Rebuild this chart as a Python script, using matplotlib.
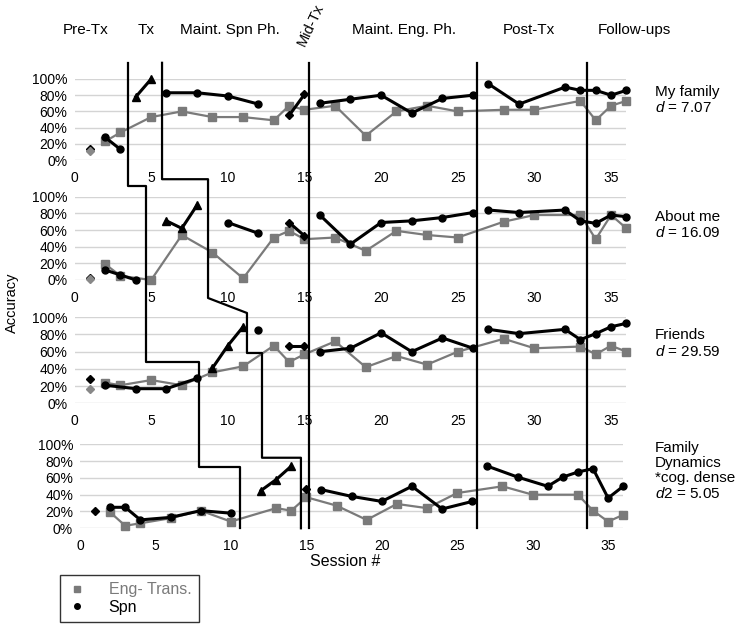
import numpy as np
import matplotlib
matplotlib.use('Agg')
import matplotlib.pyplot as plt
from matplotlib.lines import Line2D
from matplotlib.transforms import blended_transform_factory

plt.rcParams['font.family'] = ['Liberation Sans', 'DejaVu Sans']
plt.rcParams['mathtext.fontset'] = 'custom'
plt.rcParams['mathtext.it'] = 'Liberation Sans:italic'
plt.rcParams['mathtext.rm'] = 'Liberation Sans'

W, H = 738, 625

# ---- data (sessions / accuracy in %) ----
panel_labels = ['My family\n$d$ = 7.07',
                'About me\n$d$ = 16.09',
                'Friends\n$d$ = 29.59',
                'Family\nDynamics\n*cog. dense\n$d2$ = 5.05']

eng_sessions = [
    [2, 3, 5, 7, 9, 11, 13, 14, 15, 17, 19, 21, 23, 25, 28, 30, 33, 34, 35, 36],
    [2, 3, 5, 7, 9, 11, 13, 14, 15, 17, 19, 21, 23, 25, 28, 30, 33, 34, 35, 36],
    [2, 3, 5, 7, 9, 11, 13, 14, 15, 17, 19, 21, 23, 25, 28, 30, 33, 34, 35, 36],
    [2, 3, 4, 6, 8, 10, 13, 14, 15, 17, 19, 21, 23, 25, 28, 30, 33, 34, 35, 36],
]
eng_values = [
    [23, 34, 53, 60, 53, 53, 49, 67, 62, 67, 30, 60, 67, 60, 62, 62, 73, 49, 67, 73],
    [19, 5, 0, 54, 33, 2, 51, 59, 49, 51, 35, 59, 54, 51, 70, 78, 78, 49, 78, 62],
    [24, 21, 27, 21, 36, 43, 67, 48, 57, 72, 42, 55, 45, 60, 75, 64, 66, 57, 67, 60],
    [19, 3, 6, 12, 21, 8, 24, 21, 37, 27, 10, 29, 24, 42, 50, 40, 40, 21, 8, 16],
]

# probe at session 1 (Spn, Eng)
probe_spn = [14, 3, 28, 21]
probe_eng = [11, 1, 17, None]

# Spn series per phase: (sessions, values)
spn_base = [([2, 3], [28, 13]),
            ([2, 3, 4], [12, 6, 0]),
            ([2, 4, 6, 8], [21, 17, 17, 29]),
            ([2, 3, 4, 6, 8, 10], [25, 25, 10, 13, 21, 18])]
spn_tx = [([4, 5], [78, 100]),
          ([6, 7, 8], [71, 62, 90]),
          ([9, 10, 11], [41, 67, 89]),
          ([12, 13, 14], [45, 58, 74])]
spn_maint_spn = [([6, 8, 10, 12], [83, 83, 79, 69]),
                 ([10, 12], [69, 56]),
                 ([12], [85]),
                 ([], [])]
spn_mid = [([14, 15], [55, 81]),
           ([14, 15], [69, 53]),
           ([14, 15], [67, 67]),
           ([15], [47])]
spn_maint_eng = [([16, 18, 20, 22, 24, 26], [70, 75, 80, 58, 76, 80]),
                 ([16, 18, 20, 22, 24, 26], [78, 43, 69, 71, 75, 81]),
                 ([16, 18, 20, 22, 24, 26], [60, 64, 82, 60, 76, 64]),
                 ([16, 18, 20, 22, 24, 26], [46, 38, 32, 50, 23, 32])]
spn_post = [([27, 29, 32, 33, 34, 35, 36], [94, 69, 90, 86, 86, 80, 86]),
            ([27, 29, 32, 33, 34, 35, 36], [84, 81, 84, 71, 68, 78, 76]),
            ([27, 29, 32, 33, 34, 35, 36], [86, 81, 86, 74, 81, 89, 93]),
            ([27, 29, 31, 32, 33, 34, 35, 36], [74, 61, 50, 61, 67, 71, 36, 50])]

phase_names = ['Pre-Tx', 'Tx', 'Maint. Spn Ph.', 'Mid-Tx', 'Maint. Eng. Ph.', 'Post-Tx', 'Follow-ups']
phase_name_x = [0.75, 4.66, 10.14, 15.4, 21.5, 29.65, 36.5]

# phase change lines: (session, panel, level %)
phase_paths = [
    [(3.49, 0, 120), (3.49, 1, 113), (4.66, 1, 113), (4.66, 2, 48), (8.1, 2, 48), (8.1, 3, 73),
     (10.8, 3, 73), (10.8, 3, 0)],
    [(5.71, 0, 120), (5.71, 1, 121), (8.71, 1, 121), (8.71, 1, -21.6), (11.25, 2, 105), (11.25, 2, 58.5),
     (12.23, 2, 58.5), (12.23, 3, 84), (14.77, 3, 84), (14.77, 3, 0)],
    [(15.31, 0, 120), (15.31, 3, 0)],
    [(26.24, 0, 120), (26.24, 3, 0)],
    [(33.41, 0, 120), (33.41, 3, 0)],
]

# ---- layout (pixels) ----
panel_boxes = [(74.5, 626.4, 79, 160), (74.5, 626.4, 196.7, 280),
               (74.5, 626.4, 317.3, 403.3), (80, 623.2, 444.3, 528.3)]
label_y = [100, 225, 343.5, 471]

fig = plt.figure(figsize=(W / 100, H / 100), dpi=100)

gray = '#7a7a7a'
axes = []
for i, (l, r, t, b) in enumerate(panel_boxes):
    ax = fig.add_axes([l / W, 1 - b / H, (r - l) / W, (b - t) / H])
    axes.append(ax)
    ax.set_xlim(0, 36)
    ax.set_ylim(0, 100)
    ax.set_yticks([0, 20, 40, 60, 80, 100])
    ax.set_yticklabels(['0%', '20%', '40%', '60%', '80%', '100%'])
    ax.set_xticks(range(0, 36, 5))
    for s in ax.spines.values():
        s.set_visible(False)
    ax.tick_params(length=0, labelsize=10, pad=5)
    ax.tick_params(axis='x', pad=8)
    ax.grid(axis='y', color='#d4d4d4', lw=1)
    ax.set_axisbelow(True)

    ax.plot(eng_sessions[i], eng_values[i], color=gray, lw=1.6, marker='s', ms=5.5,
            clip_on=False, zorder=3)
    ax.plot([1], [probe_spn[i]], 'D', color='black', ms=4, clip_on=False, zorder=4)
    if probe_eng[i] is not None:
        ax.plot([1], [probe_eng[i]], 'D', color='#888888', ms=4, clip_on=False, zorder=4)

    for data, mk, ms in [(spn_base, 'o', 5), (spn_tx, '^', 6), (spn_maint_spn, 'o', 5),
                         (spn_mid, 'D', 4), (spn_maint_eng, 'o', 5), (spn_post, 'o', 5)]:
        xs, ys = data[i]
        if xs:
            ax.plot(xs, ys, color='black', lw=2.2, marker=mk, ms=ms, clip_on=False, zorder=5)

    fig.text(655 / W, 1 - label_y[i] / H, panel_labels[i],
             fontsize=11, va='center', ha='left', linespacing=1.1)

# phase lines
to_fig = fig.transFigure.inverted()
for path in phase_paths:
    pts = []
    for s, p, lev in path:
        px = axes[0].transData.transform((s, 0))[0]
        py = axes[p].transData.transform((0, lev))[1]
        pts.append(to_fig.transform((px, py)))
    pts = np.array(pts)
    fig.add_artist(Line2D(pts[:, 0], pts[:, 1], color='black', lw=1.6, transform=fig.transFigure))

# phase names
tr = blended_transform_factory(axes[0].transData, fig.transFigure)
for name, x in zip(phase_names, phase_name_x):
    if name == 'Mid-Tx':
        fig.text(x, 1 - 25 / H, name, transform=tr, fontsize=10.5, rotation=65,
                 ha='center', va='center')
    else:
        fig.text(x, 1 - 30 / H, name, transform=tr, fontsize=11, ha='center', va='center')

fig.text(12 / W, 1 - 303 / H, 'Accuracy', rotation=90, fontsize=10.5, ha='center', va='center')
fig.text(345 / W, 1 - 561 / H, 'Session #', fontsize=11.5, ha='center', va='center')

handles = [Line2D([], [], ls='none', marker='s', color=gray, ms=5),
           Line2D([], [], ls='none', marker='o', color='black', ms=4)]
leg = fig.legend(handles, ['Eng- Trans.', 'Spn'], loc='upper left',
                 bbox_to_anchor=(60 / W, 1 - 575 / H), fontsize=11.5, frameon=True,
                 fancybox=False, edgecolor='black', labelcolor=[gray, 'black'],
                 handlelength=1.2, handletextpad=1.4, borderpad=0.45, labelspacing=0.15,
                 borderaxespad=0)
leg.get_frame().set_linewidth(1.0)

fig.savefig('out.png', dpi=100)
